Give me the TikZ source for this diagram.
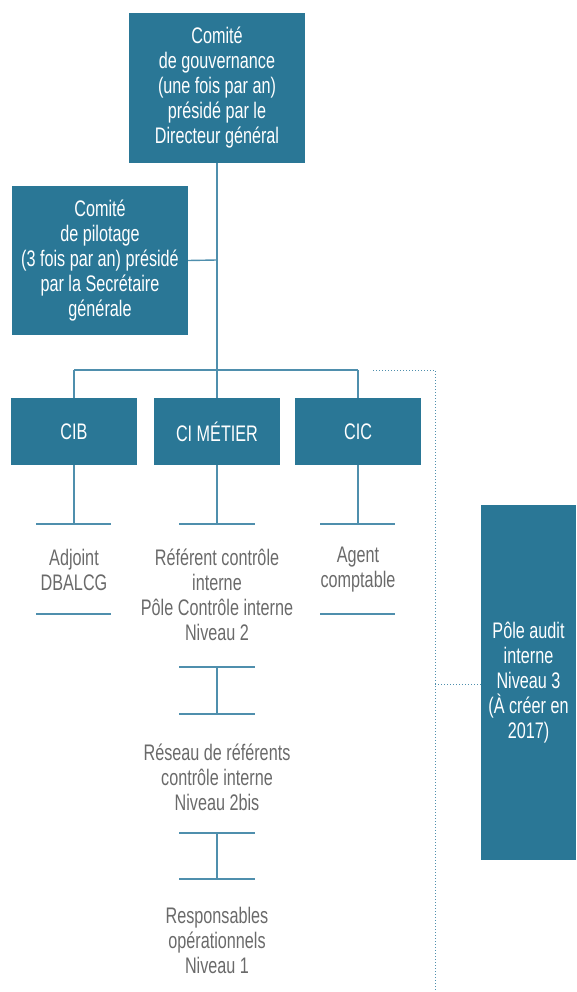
\documentclass[tikz,border=0pt]{standalone}
\usepackage{fontspec}
\setmainfont{Liberation Sans}[FakeStretch=0.72]
\usetikzlibrary{positioning}
\definecolor{boxblue}{HTML}{2A7796}
\definecolor{linkblue}{HTML}{4F8FAD}
\definecolor{greytxt}{HTML}{6A6A6A}
\tikzset{
  bluebox/.style={fill=boxblue, draw=none, text=white, align=center, inner sep=0pt, font=\fontsize{22.5}{25}\selectfont},
  greylabel/.style={text=greytxt, align=center, inner sep=0pt, font=\fontsize{22.5}{25}\selectfont},
  link/.style={draw=linkblue, line width=1.4pt},
  dotlink/.style={draw=linkblue, line width=1pt, dotted}
}
\begin{document}
\begin{tikzpicture}[x=1pt,y=-1pt]
\useasboundingbox (0,0) rectangle (576,992);
% boxes
\node[bluebox, minimum width=176pt, minimum height=150pt] (gov) at (217,88)
  {Comité\\de gouvernance\\(une fois par an)\\présidé par le\\Directeur général};
\node[bluebox, minimum width=176pt, minimum height=149pt] (pil) at (100,260.5)
  {Comité\\de pilotage\\(3 fois par an) présidé\\par la Secrétaire\\générale};
\node[bluebox, minimum width=126pt, minimum height=67pt] (cib) at (74,431.5) {CIB};
\node[bluebox, minimum width=126pt, minimum height=67pt] (met) at (217,431.5) {CI MÉTIER};
\node[bluebox, minimum width=126pt, minimum height=67pt] (cic) at (358,431.5) {CIC};
\node[bluebox, minimum width=95pt, minimum height=355pt] (aud) at (528.5,682.5)
  {Pôle audit\\interne\\Niveau 3\\(À créer en\\2017)};
% grey labels
\node[greylabel] (adj) at (74,570) {Adjoint\\DBALCG};
\node[greylabel] (ref) at (217,595) {Référent contrôle\\interne\\Pôle Contrôle interne\\Niveau 2};
\node[greylabel] (agt) at (358,570) {Agent\\comptable};
\node[greylabel] (res) at (217,777) {Réseau de référents\\contrôle interne\\Niveau 2bis};
\node[greylabel] (rsp) at (217,940) {Responsables\\opérationnels\\Niveau 1};
% junction coordinates
\coordinate (jtop) at (217,370);
\coordinate (jpil) at (217,260);
\coordinate (jl) at (74,370);
\coordinate (jr) at (358,370);
% bars
\coordinate (cibT) at (74,524); \coordinate (cibTL) at (36,524); \coordinate (cibTR) at (111,524);
\coordinate (cibBL) at (36,614); \coordinate (cibBR) at (111,614);
\coordinate (metT) at (217,524); \coordinate (metTL) at (179,524); \coordinate (metTR) at (255,524);
\coordinate (m1L) at (179,667); \coordinate (m1R) at (255,667); \coordinate (m1) at (217,667);
\coordinate (m2L) at (179,714); \coordinate (m2R) at (255,714); \coordinate (m2) at (217,714);
\coordinate (m3L) at (179,833); \coordinate (m3R) at (255,833); \coordinate (m3) at (217,833);
\coordinate (m4L) at (179,879); \coordinate (m4R) at (255,879); \coordinate (m4) at (217,879);
\coordinate (cicT) at (358,524); \coordinate (cicTL) at (320,524); \coordinate (cicTR) at (395,524);
\coordinate (cicBL) at (320,614); \coordinate (cicBR) at (395,614);
% connectors
\draw[link] (gov.south) -- (jtop);
\draw[link] (pil.east) -- (jpil);
\draw[link] (jl) -- (jr);
\draw[link] (jl) -- (cib.north);
\draw[link] (jtop) -- (met.north);
\draw[link] (jr) -- (cic.north);
\draw[link] (cib.south) -- (cibT);
\draw[link] (met.south) -- (metT);
\draw[link] (cic.south) -- (cicT);
\draw[link] (cibTL) -- (cibTR);
\draw[link] (cibBL) -- (cibBR);
\draw[link] (metTL) -- (metTR);
\draw[link] (m1L) -- (m1R);
\draw[link] (m2L) -- (m2R);
\draw[link] (m1) -- (m2);
\draw[link] (m3L) -- (m3R);
\draw[link] (m4L) -- (m4R);
\draw[link] (m3) -- (m4);
\draw[link] (cicTL) -- (cicTR);
\draw[link] (cicBL) -- (cicBR);
% dotted link to audit
\coordinate (d1) at (373,370);
\coordinate (d2) at (435,370);
\coordinate (d3) at (435,992);
\coordinate (d4) at (435,684);
\draw[dotlink] (d1) -- (d2) -- (d3);
\draw[dotlink] (d4) -- (aud.west |- d4);
\end{tikzpicture}
\end{document}
